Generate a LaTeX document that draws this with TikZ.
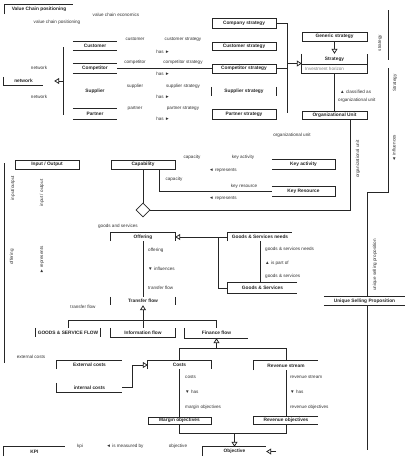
\documentclass[tikz,border=0pt]{standalone}
\usepackage{fontspec}
\setmainfont{Liberation Sans}
\usetikzlibrary{arrows.meta,shapes.geometric}
\begin{document}
\begin{tikzpicture}[x=1pt,y=-1pt,
  ln/.style={line width=0.75pt, draw=black!85},
  gen/.style={ln,-{Triangle[open,length=5pt,width=6pt,fill=white]}},
  ttl/.style={font=\fontsize{4.8}{5}\selectfont\bfseries, text=black!85, inner sep=0},
  lbl/.style={font=\fontsize{4.6}{5}\selectfont, text=black!80, inner sep=0},
  sbox/.style={ttl, draw=black!85, line width=0.75pt},
  bx/.style={ttl, minimum width=#1}]
\useasboundingbox (0,0) rectangle (405,467);
\fill[white] (0,0) rectangle (405,467);

% ---- title
\node[ttl, minimum width=68, minimum height=9] (vcp) at (39,9.5) {Value Chain positioning};
\draw[ln] (vcp.south west) -- (vcp.north west) -- (vcp.north east);
\node[lbl] (vce) at (116,15) {value chain economics};
\node[lbl] (vcpl) at (57,22) {value chain positioning};

% ---- network
\node[bx=39, minimum height=8] (net) at (23.5,81) {network};
\draw[ln] (net.north west) -- (net.south west) -- (net.south east);
\node[lbl] at (39,68) {network};
\node[lbl] at (39,97) {network};
\coordinate (vb1) at (63,47);
\coordinate (vb2) at (63,115);
\coordinate (vbm) at (63,81);
\draw[ln] (vb1) -- (vb2);
\draw[gen] (vbm) -- ([xshift=11]net.east);

% ---- network partners
\node[bx=44, minimum height=8] (cust) at (95,46) {Customer};
\draw[ln] (cust.north west) -- (cust.north east) (cust.south west) -- (cust.south east);
\node[bx=44, minimum height=9] (comp) at (95,68.5) {Competitor};
\draw[ln] (comp.north west) -- (comp.north east) (comp.south west) -- (comp.south east);
\node[bx=44, minimum height=9] (sup) at (95,91) {Supplier};
\node[bx=44, minimum height=10] (part) at (95,114) {Partner};
\draw[ln] (part.north west) -- (part.north east) (part.south west) -- (part.south east);

% association labels
\foreach \ya/\yb/\ra/\rb in {39/52/customer/customer strategy, 62/74/competitor/competitor strategy, 86/97/supplier/supplier strategy, 108/119/partner/partner strategy}{
  \node[lbl] at (135,\ya) {\ra};
  \node[lbl] at (183,\ya) {\rb};
  \node[lbl] at (163,\yb) {has ►};
}

% ---- strategies
\node[sbox, minimum width=64, minimum height=10] (cs) at (244,23) {Company strategy};
\node[sbox, minimum width=64, minimum height=8] (custs) at (244,46) {Customer strategy};
\node[sbox, minimum width=64, minimum height=9] (comps) at (244,68.5) {Competitor strategy};
\node[bx=64, minimum height=9] (sups) at (244,91.5) {Supplier strategy};
\draw[ln] (sups.north west) -- (sups.south west) (sups.north east) -- (sups.south east);
\node[sbox, minimum width=64, minimum height=10] (parts) at (244,114) {Partner strategy};
\draw[ln] (comp.east) -- (comps.west);

\coordinate (bt) at (287,23);
\coordinate (bb) at (287,113);
\draw[ln] (cs.east) -- (bt) -- (bb);
\draw[ln] (comps.east) -- (comps.east -| bt);

\node[sbox, minimum width=65, minimum height=9] (gs) at (334.5,36.5) {Generic strategy};
\node[bx=65, minimum height=19] (st) at (334.5,63.5) {};
\node[ttl] (stt) at (334.5,59) {Strategy};
\node[lbl, text=black!50, anchor=west] (sth) at (305,69) {Investment horizon};
\draw[ln] (st.north west) -- (st.south west) -- (st.south east) -- (st.north east);
\draw[ln] (st.west |- 0,64) -- (st.east |- 0,64);
\draw[gen] (st.west -| bt) -- (st.west);
\draw[gen] (gs.south) -- (st.north);

\node[sbox, minimum width=65, minimum height=8] (ou) at (334.5,115) {Organizational Unit};
\draw[ln] (st.south) -- (ou.north);
\node[lbl, anchor=west] at (340,92) {▲ classified as};
\node[lbl, anchor=west] at (338,100) {organizational unit};

% ---- right side lines
\coordinate (r1) at (388,10);
\coordinate (r2) at (388,60);
\draw[ln] (r1) -- (r2);
\node[lbl, rotate=90] at (380,43) {strategy};
\coordinate (r3) at (388,68);
\coordinate (r4) at (388,192);
\coordinate (r5) at (367,192);
\coordinate (r6) at (367,450);
\node[bx=81, minimum height=8] (usp) at (364.5,301) {Unique Selling Proposition};
\draw[ln] (usp.north west) -- (usp.north east) (usp.south west) -- (usp.south east);
\draw[ln] (r3) -- (r4) -- (r5) -- (r5 |- usp.north);
\draw[ln] (r5 |- usp.south) -- (r6);
\node[lbl, rotate=90] at (395,83) {Strategy};
\node[lbl, rotate=90] at (394,148) {◄ influences};
\node[lbl, rotate=90] at (375,265) {unique selling proposition};
\node[lbl, rotate=90] at (358,159) {organizational unit};
\node[lbl] at (292,135) {organizational unit};

% ---- capability
\node[sbox, minimum width=64, minimum height=9] (io) at (47,164.5) {Input / Output};
\node[sbox, minimum width=64, minimum height=9] (cap) at (143,164.5) {Capability};
\node[bx=63, minimum height=9] (ka) at (303.5,164.5) {Key activity};
\draw[ln] (ka.north west) -- (ka.north east) -- (ka.south east) -- (ka.south west);
\node[bx=63, minimum height=9] (kr) at (303.5,191.5) {Key Resource};
\draw[ln] (kr.north west) -- (kr.north east) -- (kr.south east) -- (kr.south west);
\draw[ln] ([xshift=16]cap.south) |- (kr.west);
\node[lbl] at (192,157) {capacity};
\node[lbl] at (243,157) {key activity};
\node[lbl] at (223,170) {◄ represents};
\node[lbl] at (174,179) {capacity};
\node[lbl] at (244,186) {key resource};
\node[lbl] at (223,198) {◄ represents};

\node[diamond, draw=black!85, line width=0.75pt, fill=white, minimum width=14, minimum height=14, inner sep=0] (dia) at (143,210) {};
\draw[ln] (cap.south) -- (dia.north);
\draw[ln] ([xshift=-17]ou.south east) |- (dia.east);
\node[lbl, anchor=east] at (138,226) {goods and services};

% ---- offering
\node[bx=64, minimum height=8] (off) at (143,237) {Offering};
\draw[ln] (off.south west) -- (off.north west) -- (off.north east) -- (off.south east);
\node[bx=64, minimum height=8] (gsn) at (260,237) {Goods \& Services needs};
\draw[ln] (gsn.south west) -- (gsn.north west) -- (gsn.north east);
\draw[gen] (gsn.west) -- (off.east);
\node[bx=69, minimum height=10] (gns) at (262.5,288) {Goods \& Services};
\draw[ln] (gns.north east) -- (gns.north west) -- (gns.south west) -- (gns.south east);
\draw[ln] (gns.west) -| ([xshift=43]off.east);
\draw[ln] (gsn.south) -- (gsn.south |- gns.north);
\node[lbl, anchor=west] at (265,249) {goods \& services needs};
\node[lbl, anchor=west] at (265,263) {▲ is part of};
\node[lbl, anchor=west] at (265,276) {goods \& services};

\node[lbl, anchor=west] at (148,250) {offering};
\node[lbl, anchor=west] at (148,269) {▼ influences};
\node[lbl, anchor=west] at (148,288) {transfer flow};

% ---- flows
\node[bx=64, minimum height=8] (tf) at (143,301) {Transfer flow};
\draw[ln] (tf.north west) -- (tf.south west) (tf.north east) -- (tf.south east);
\draw[ln] (off.south) -- (tf.north);
\coordinate (fb) at (143,320);
\draw[gen] (fb) -- (tf.south);
\node[lbl] at (83,307) {transfer flow};

\node[bx=64, minimum height=9] (gsf) at (68,332.5) {GOODS \& SERVICE FLOW};
\draw[ln] (gsf.north west) -- (gsf.south west) (gsf.north east) -- (gsf.south east);
\node[bx=64, minimum height=9] (inf) at (143,332.5) {Information flow};
\draw[ln] (inf.north west) -- (inf.south west) -- (inf.south east) -- (inf.north east);
\node[bx=63, minimum height=10] (ff) at (216.5,333) {Finance flow};
\draw[ln] (ff.north west) -- (ff.south west) -- (ff.south east);
\draw[ln] (gsf.north |- fb) -- (ff.north |- fb);
\draw[ln] (gsf.north |- fb) -- (gsf.north);
\draw[ln] (fb) -- (inf.north);
\draw[ln] (ff.north |- fb) -- (ff.north);

% ---- costs / revenue
\coordinate (fb2) at (216.5,348);
\draw[gen] (fb2) -- (ff.south);
\node[bx=63, minimum height=8] (co) at (179.5,365) {Costs};
\draw[ln] (co.south west) -- (co.north west) -- (co.north east) -- (co.south east);
\node[bx=64, minimum height=9] (rs) at (286,365.5) {Revenue stream};
\draw[ln] (rs.south west) -- (rs.north west) -- (rs.north east);
\draw[ln] (co.north |- fb2) -- (rs.north |- fb2);
\draw[ln] (co.north |- fb2) -- (co.north);
\draw[ln] (rs.north |- fb2) -- (rs.north);

\node[bx=65, minimum height=8] (ec) at (89.5,365) {External costs};
\draw[ln] (ec.south west) -- (ec.north west) -- (ec.north east);
\node[bx=65, minimum height=9] (ic) at (89.5,387.5) {internal costs};
\draw[ln] (ic.north west) -- (ic.south west) -- (ic.south east);
\draw[gen] (ic.east) -- ++(10,0) |- (co.west);
\node[lbl] at (31,357) {external costs};

\node[lbl, anchor=west] at (185,377) {costs};
\node[lbl, anchor=west] at (185,392) {▼ has};
\node[lbl, anchor=west] at (185,407) {margin objectives};
\node[lbl, anchor=west] at (290,377) {revenue stream};
\node[lbl, anchor=west] at (290,392) {▼ has};
\node[lbl, anchor=west] at (290,407) {revenue objectives};

\node[sbox, minimum width=63, minimum height=7] (mo) at (179.5,420.5) {Margin objectives};
\node[bx=64, minimum height=7] (ro) at (286,420.5) {Revenue objectives};
\draw[ln] (ro.north east) -- (ro.north west) -- (ro.south west) -- (ro.south east);
\draw[ln] (co.south) -- (mo.north);
\draw[ln] (rs.south) -- (ro.north);
\coordinate (ob) at (234.5,433);
\draw[ln] (mo.south) |- (ro.south |- ob) -- (ro.south);

% ---- objective / KPI
\node[bx=63, minimum height=9] (obj) at (234.5,451.5) {Objective};
\draw[ln] (obj.south west) -- (obj.north west) -- (obj.north east);
\draw[gen] (ob) -- (obj.north);
\draw[gen] ([xshift=10]obj.east) -- (obj.east);
\node[bx=61, minimum height=9] (kpi) at (34.5,451.5) {KPI};
\draw[ln] (kpi.south west) -- (kpi.north west) -- (kpi.north east);
\node[lbl] at (80,446) {kpi};
\node[lbl] at (125,446) {◄ is measured by};
\node[lbl] at (178,446) {objective};

% ---- left line and labels
\coordinate (l1) at (4,163);
\coordinate (l2) at (4,363);
\draw[ln] (l1) -- (l2);
\node[lbl, rotate=90] at (13,188) {input/output};
\node[lbl, rotate=90] at (42,193) {input / output};
\node[lbl, rotate=90] at (12,257) {offering};
\node[lbl, rotate=90] at (42,260) {► represents};
\end{tikzpicture}
\end{document}
